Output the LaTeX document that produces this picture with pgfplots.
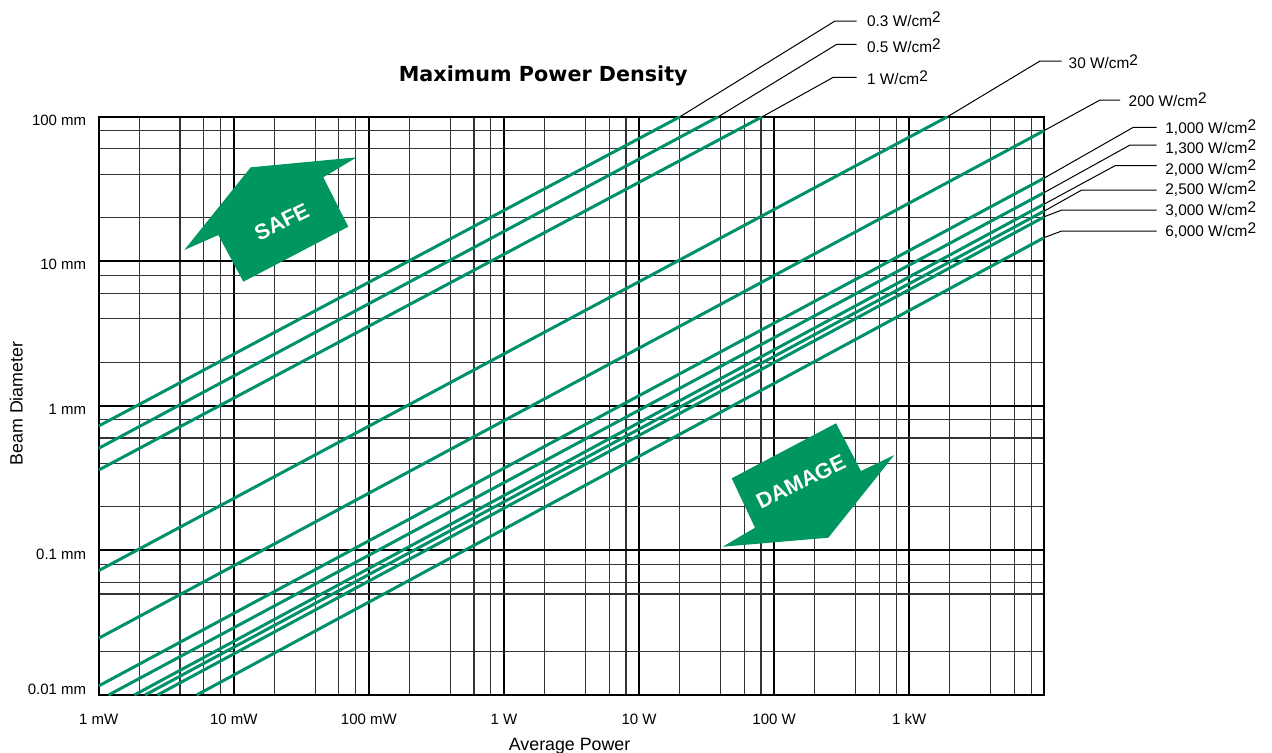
\documentclass[border=0pt]{standalone}
\usepackage{fontspec}
\setmainfont{Liberation Sans}
\newfontfamily\titlefont{DejaVu Sans}
\usepackage{pgfplots}
\pgfplotsset{compat=1.18}

\definecolor{lineg}{RGB}{0,145,108}
\definecolor{arrowg}{RGB}{0,150,95}
\tikzset{gline/.style={lineg, line width=1.5pt, mark=none}}

\newcommand{\dens}[1]{#1 W/cm\raisebox{1.6pt}{2}}

\begin{document}
\begin{tikzpicture}
\begin{axis}[
  at={(49.35pt,-347.5pt)}, anchor=south west,
  scale only axis, width=472.8pt, height=289.15pt,
  xmode=log, ymode=log,
  xmin=0.001, xmax=10000, ymin=0.01, ymax=100,
  xtick={0.001,0.01,0.1,1,10,100,1000},
  xticklabels={1 mW,10 mW,100 mW,1 W,10 W,100 W,1 kW},
  ytick={0.01,0.1,1,10,100},
  yticklabels={\smash{\raisebox{1.85pt}{0.01 mm}},0.1 mm,1 mm,10 mm,100 mm},
  minor xtick={0.002,0.004,0.006,0.008,0.02,0.04,0.06,0.08,0.2,0.4,0.6,0.8,
    2,4,6,8,20,40,60,80,200,400,600,800,2000,4000,6000,8000},
  minor ytick={0.02,0.05,0.06,0.08,0.2,0.4,0.6,0.8,2,4,6,8,20,40,60,80},
  major tick length=0pt, minor tick length=0pt,
  grid=both,
  major grid style={black, line width=1pt},
  minor grid style={black!80, line width=0.55pt},
  axis line style={line width=1pt},
  tick label style={font=\fontsize{7.5}{9}\selectfont},
  xticklabel shift=5.85pt,
  yticklabel shift=2.7pt,
  yticklabel style={yshift=-1.75pt},
  xlabel={Average Power}, ylabel={Beam Diameter},
  label style={font=\fontsize{8.9}{10}\selectfont},
  xlabel style={at={(axis description cs:0.498,-0.0619)}, anchor=north},
  ylabel style={at={(axis description cs:-0.0728,0.504)}, anchor=south},
]
% 0.3 W/cm2
\addplot[gline] coordinates {(0.001,0.726) (20.08,100)};
% 0.5 W/cm2
\addplot[gline] coordinates {(0.001,0.509) (38.55,100)};
% 1 W/cm2
\addplot[gline] coordinates {(0.001,0.360) (81.6,100)};
% 30 W/cm2
\addplot[gline] coordinates {(0.001,0.0725) (1919,100)};
% 200 W/cm2
\addplot[gline] coordinates {(0.001,0.0247) (10000,80.3)};
% 1,000 W/cm2
\addplot[gline] coordinates {(0.001,0.01156) (10000,37.7)};
% 1,300 W/cm2
\addplot[gline] coordinates {(0.001182,0.01) (10000,29.9)};
% 2,000 W/cm2
\addplot[gline] coordinates {(0.001834,0.01) (10000,24.9)};
% 2,500 W/cm2
\addplot[gline] coordinates {(0.002202,0.01) (10000,22.3)};
% 3,000 W/cm2
\addplot[gline] coordinates {(0.002723,0.01) (10000,20.3)};
% 6,000 W/cm2
\addplot[gline] coordinates {(0.00531,0.01) (10000,14.6)};
\end{axis}

% annotations in pixel units of the reference
\begin{scope}[x=0.5pt,y=-0.5pt]
  \node[anchor=base] at (543.3,81.7)
    {\titlefont\bfseries\fontsize{10.35}{12}\selectfont Maximum Power Density};

  % arrows
  \fill[arrowg] (243.3,281.7) -- (218.3,235) -- (184.3,250) -- (250.7,167.3)
    -- (356.7,157.3) -- (323.3,177.3) -- (348.3,226.7) -- cycle;
  \fill[arrowg] (731.7,478.3) -- (836,423.3) -- (861,471) -- (894.3,455)
    -- (828.3,537.7) -- (722.7,546.7) -- (755,527.7) -- cycle;
  \node[white, rotate=26] at (281.7,221.7)
    {\bfseries\fontsize{10.8}{12}\selectfont SAFE};
  \node[white, rotate=26] at (800.8,481.7)
    {\bfseries\fontsize{10.8}{12}\selectfont DAMAGE};

  % leader lines
  \begin{scope}[line width=0.5pt]
    \draw (680,116.7) -- (835,21) -- (856.7,21);
    \draw (718.3,116.7) -- (836.7,44.3) -- (856.7,44.3);
    \draw (762.3,116.7) -- (833.3,77.3) -- (856.7,77.3);
    \draw (947.5,116.7) -- (1040,61) -- (1061.7,61);
    \draw (1044.3,130.5) -- (1100,100) -- (1120,100);
    \draw (1044.3,178) -- (1133.3,127.3) -- (1156.7,127.3);
    \draw (1044.3,192.5) -- (1130,145) -- (1156.7,145);
    \draw (1044.3,204) -- (1115,165.7) -- (1156.7,165.7);
    \draw (1044.3,211) -- (1081.7,190) -- (1156.7,190);
    \draw (1044.3,216.7) -- (1061.7,210) -- (1156.7,210);
    \draw (1044.3,237.5) -- (1061.7,231) -- (1156.7,231);
  \end{scope}

  \begin{scope}[every node/.style={anchor=base west, inner sep=0pt,
      font=\fontsize{7.7}{9}\selectfont}]
    \node at (866.7,26) {\dens{0.3}};
    \node at (866.7,52.7) {\dens{0.5}};
    \node at (866.7,84.3) {\dens{1}};
    \node at (1068.3,68.3) {\dens{30}};
    \node at (1128.3,106.7) {\dens{200}};
    \node at (1165,133.3) {\dens{1,000}};
    \node at (1165,153.3) {\dens{1,300}};
    \node at (1165,174) {\dens{2,000}};
    \node at (1165,194.7) {\dens{2,500}};
    \node at (1165,215.7) {\dens{3,000}};
    \node at (1165,236.7) {\dens{6,000}};
  \end{scope}
\end{scope}

\pgfresetboundingbox
\path (0,0) rectangle (636pt,-376pt);
\end{tikzpicture}
\end{document}
